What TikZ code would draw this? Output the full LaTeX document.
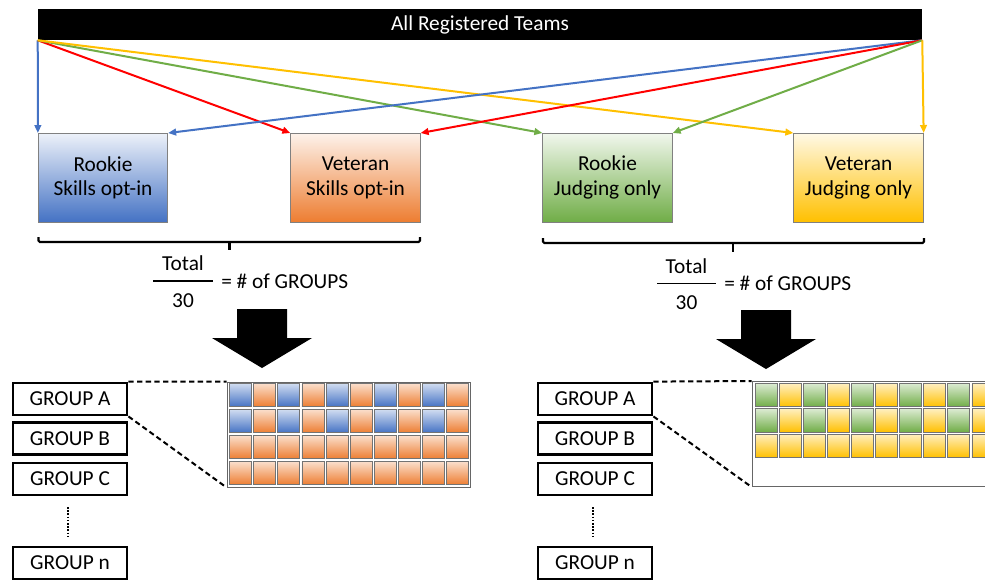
\documentclass[tikz,border=0pt]{standalone}
\usepackage{fontspec}
\setmainfont{Carlito}
\usetikzlibrary{arrows.meta}
\definecolor{cblue}{HTML}{4472C4}
\definecolor{corange}{HTML}{ED7D31}
\definecolor{cgreen}{HTML}{70AD47}
\definecolor{cyellow}{HTML}{FFC000}
\definecolor{cred}{HTML}{FF0000}
\begin{document}
\begin{tikzpicture}[x=0.75pt,y=-0.75pt,
  txt/.style={font=\fontsize{16}{18.5}\selectfont, inner sep=0pt},
  catbox/.style={draw=black!50, line width=0.7pt, minimum width=97pt, minimum height=66.4pt,
     align=center, txt, top color=#1!10!white, bottom color=#1},
  arr/.style={line width=1.5pt, -{Triangle[length=6pt,width=5pt]}},
  grpbox/.style={draw=black, line width=2.1pt, minimum width=85.5pt, minimum height=24pt, txt},
  cellc/.style={draw=black!55, line width=0.6pt, top color=#1!25!white, bottom color=#1},
  gridbox/.style={draw=black!60, line width=0.7pt, fill=white, minimum width=182.25pt, minimum height=78.75pt, inner sep=0pt},
  zoomline/.style={line width=1.5pt, dash pattern=on 4pt off 2.5pt},
  bracket/.style={line width=1.6pt, rounded corners=1pt},
  fracline/.style={line width=1.2pt},
  dots/.style={line width=1.6pt, dash pattern=on 1.2pt off 1.2pt},
  bigarrow/.style={fill=black}
]
\clip (0,0) rectangle (985,579);
\fill[white] (0,0) rectangle (985,579);

% top bar
\node[fill=black, text=white, txt, minimum width=663pt, minimum height=23.25pt] (top) at (480,24.5) {All Registered Teams};

% category boxes
\node[catbox=cblue] (rs) at (103,177.75) {Rookie\\Skills opt-in};
\node[catbox=corange] (vs) at (355.5,177.75) {Veteran\\Skills opt-in};
\node[catbox=cgreen] (rj) at (607.5,177.75) {Rookie\\Judging only};
\node[catbox=cyellow] (vj) at (858.5,177.75) {Veteran\\Judging only};

% arrows from left corner
\draw[arr, cblue] (top.south west) -- (rs.north west);
\draw[arr, cred] (top.south west) -- (vs.north west);
\draw[arr, cgreen] (top.south west) -- (rj.north west);
\draw[arr, cyellow] (top.south west) -- (vj.north west);
% arrows from right corner
\draw[arr, cblue] (top.south east) -- (rs.north east);
\draw[arr, cred] (top.south east) -- (vs.north east);
\draw[arr, cgreen] (top.south east) -- (rj.north east);
\draw[arr, cyellow] (top.south east) -- (vj.north east);

% brackets
\draw[bracket] (38.5,237) -- (38.5,242) -- (420,242) -- (420,237);
\draw[bracket] (229.5,242) -- (229.5,250);
\draw[bracket] (543,238) -- (543,243) -- (924,243) -- (924,238);
\draw[bracket] (733,243) -- (733,252);

% fractions
\node[txt] (t1) at (183,263) {Total};
\node[txt] (n1) at (183,301) {30};
\draw[fracline] (153,281) -- (213,281);
\node[txt, anchor=west] (e1) at (221,281) {= \# of GROUPS};
\node[txt] (t2) at (686.5,266) {Total};
\node[txt] (n2) at (686.5,303) {30};
\draw[fracline] (657,283.5) -- (716,283.5);
\node[txt, anchor=west] (e2) at (724,283.5) {= \# of GROUPS};

% big arrows
\fill[bigarrow] (237,309) -- (287,309) -- (287,338) -- (312,338) -- (262,368) -- (212,338) -- (237,338) -- cycle;
\fill[bigarrow] (741,310) -- (791,310) -- (791,339) -- (816,339) -- (766,369) -- (716,339) -- (741,339) -- cycle;

% left groups
\node[grpbox] (la) at (70,399) {GROUP A};
\node[grpbox] (lb) at (70,438.5) {GROUP B};
\node[grpbox] (lc) at (70,479) {GROUP C};
\node[grpbox] (ln) at (70,563) {GROUP n};
\draw[dots] (68,507) -- (68,537);

% right groups
\node[grpbox] (ra) at (595,399) {GROUP A};
\node[grpbox] (rb) at (595,438.5) {GROUP B};
\node[grpbox] (rc) at (595,479) {GROUP C};
\node[grpbox] (rn) at (595,563) {GROUP n};
\draw[dots] (593,507) -- (593,537);

% left grid
\node[gridbox] (lg) at (348.5,434.5) {};
\foreach \r in {0,1}{
  \foreach \c in {0,2,4,6,8}{
    \draw[cellc=cblue] ({229.5+24.15*\c},{383.5+26*\r}) rectangle ++(22,23.3);}
  \foreach \c in {1,3,5,7,9}{
    \draw[cellc=corange] ({229.5+24.15*\c},{383.5+26*\r}) rectangle ++(22,23.3);}
}
\foreach \r in {2,3}{
  \foreach \c in {0,...,9}{
    \draw[cellc=corange] ({229.5+24.15*\c},{383.5+26*\r}) rectangle ++(22,23.3);}
}
\draw[zoomline] (la.north east) -- (lg.north west);
\draw[zoomline] (la.south east) -- (lg.south west);

% right grid
\node[gridbox] (rg) at (873.5,434) {};
\foreach \r in {0,1}{
  \foreach \c in {0,2,4,6,8}{
    \draw[cellc=cgreen] ({755+24.1*\c},{383.5+25.3*\r}) rectangle ++(22,23.3);}
  \foreach \c in {1,3,5,7,9}{
    \draw[cellc=cyellow] ({755+24.1*\c},{383.5+25.3*\r}) rectangle ++(22,23.3);}
}
\foreach \c in {0,...,9}{
  \draw[cellc=cyellow] ({755+24.1*\c},{383.5+25.3*2}) rectangle ++(22,23.3);}
\draw[zoomline] (ra.north east) -- (rg.north west);
\draw[zoomline] (ra.south east) -- (rg.south west);
\end{tikzpicture}
\end{document}
